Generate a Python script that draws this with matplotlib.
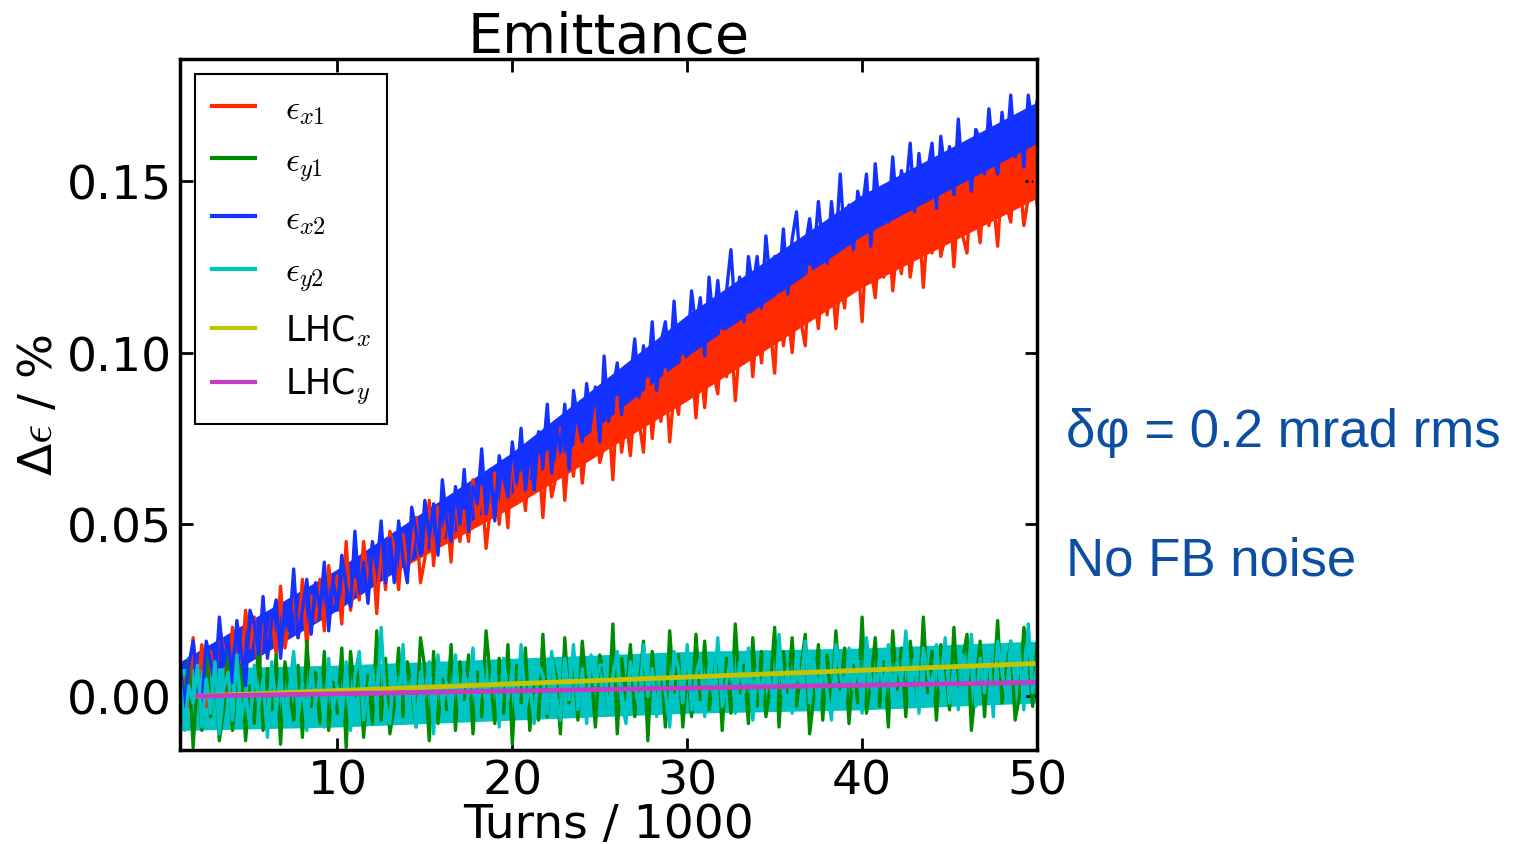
import numpy as np
import matplotlib.pyplot as plt

plt.rcParams['font.family'] = 'DejaVu Sans'
plt.rcParams['mathtext.fontset'] = 'cm'

# emittance change in units of 1e-3 %, one sample every 250 turns (1k .. 50k turns)
eps_x1 = [-2, 5, -3, 17, 2, 15, -3, 13, 2, 20, 14, 1, 20, 10, 8, 25, 14, 23, 5, 26,
          13, 23, 12, 32, 14, 22, 29, 17, 34, 14, 29, 22, 34, 19, 38, 27, 35, 21, 45, 25,
          34, 28, 45, 32, 44, 24, 45, 31, 48, 43, 31, 47, 36, 43, 52, 33, 40, 57, 38, 55,
          45, 53, 39, 60, 45, 54, 45, 63, 50, 61, 43, 55, 65, 50, 63, 49, 72, 56, 65, 54,
          70, 61, 70, 52, 71, 58, 64, 78, 57, 73, 64, 79, 62, 74, 70, 84, 68, 73, 82, 63,
          87, 71, 81, 70, 86, 80, 71, 94, 75, 89, 80, 95, 74, 89, 82, 99, 87, 99, 81, 97,
          84, 100, 94, 88, 108, 93, 106, 86, 102, 97, 111, 93, 109, 97, 113, 107, 94, 117, 102, 112,
          100, 116, 109, 102, 125, 118, 107, 124, 111, 124, 107, 121, 113, 130, 118, 127, 109, 132, 125, 116,
          132, 122, 138, 118, 131, 123, 139, 122, 131, 139, 119, 137, 129, 144, 128, 134, 144, 125, 143, 134,
          129, 151, 142, 132, 150, 137, 145, 131, 151, 143, 138, 157, 151, 137, 145, 156, 143]

eps_y1 = [7, -1, 11, -15, 6, -10, 15, -6, 9, -13, -4, 13, -10,
          5, 9, -13, 3, -8, 17, -10, 8, -4, 12, -14, 10, 1, -7, 9, -12, 16, -3, 7, -8, 13, -10, 4, -5, 14,
          -15, 13, 0, 9, -12, 6, -8, 19, -7, 11, -11, -3, 14, -6, 10, 1, -9, 17, 8, -13, 13, -8, 5, -4, 15,
          -10, 10, -1, 12, -11, 7, -6, 19, 5, -8, 11, -5, 15, -14, 9, -2, 14, -10, 3, -7, 18, -6, 12, 6, -11,
          17, -2, 11, -7, 16, 2, 8, -9, 12, 6, -5, 21, -11, 11, -1, 15, -6, 3, 16, -13, 13, -4, 10, -9, 19,
          1, 12, -9, 8, -6, 18, -1, 16, -4, 5, 14, -10, 11, -5, 21, 1, 9, -8, 17, -3, 13, -6, 3, 20, -9,
          13, 1, 17, -3, 8, 18, -11, 0, 15, -7, 12, -4, 19, 2, 14, -8, 9, -2, 23, -5, 4, 17, -3, 10, -9,
          19, 2, 14, -6, 16, 6, -3, 23, 1, 13, -7, 15, 9, -4, 20, -2, 11, 18, -10, 3, 16, -6, 13, 2, 22,
          -2, 8, 16, -7, 0, 20, 11, -3, 15]

eps_x2 = [10, -3, 9, 16, 2, -3, 16, 10, 3, 23, 9, 17, 4, 22, 13, 3, 25, 21, 12, 29,
          11, 22, 28, 11, 27, 19, 37, 17, 25, 34, 18, 33, 25, 39, 19, 34, 25, 41, 32, 26,
          48, 30, 39, 27, 45, 37, 51, 33, 46, 33, 51, 40, 33, 55, 48, 41, 57, 46, 56, 41,
          63, 51, 45, 61, 50, 66, 48, 61, 56, 72, 53, 66, 51, 70, 64, 58, 74, 62, 78, 60,
          72, 60, 77, 70, 85, 65, 80, 71, 85, 66, 89, 80, 74, 91, 80, 90, 74, 99, 80, 89,
          97, 82, 96, 92, 104, 87, 102, 93, 109, 89, 103, 109, 96, 115, 97, 106, 99, 118, 107, 116,
          99, 122, 108, 121, 107, 118, 130, 111, 122, 109, 128, 119, 128, 113, 134, 120, 128, 119, 136, 117,
          133, 141, 122, 131, 139, 128, 144, 131, 126, 144, 131, 152, 132, 143, 130, 147, 141, 152, 131, 155,
          141, 148, 138, 157, 141, 153, 147, 161, 141, 158, 146, 153, 161, 142, 163, 152, 160, 146, 168, 150,
          158, 147, 165, 162, 152, 171, 158, 152, 170, 158, 175, 157, 169, 154, 175, 166, 173]

eps_y2 = [6, -10, 3, -2, 9, -9, 5, -5, 10, -11, 2, 7, -7,
          12, -7, 1, -9, 9, -3, 5, -12, 10, -5, 7, -8, 2, 13, -6, 4, -10, 8, -2, 6, -9, 11, -4, 3, -7,
          10, -10, 6, 13, -7, 1, 8, -4, 20, -2, -8, 9, -5, 15, -6, 5, -9, 7, 0, 10, -11, 12, -3, 4, -7,
          12, -4, 7, 0, 14, -7, 9, -3, 3, 10, -9, 11, -1, 8, -6, 15, -4, 4, -8, 9, 6, -5, 13, 0, -7,
          11, -1, 15, -4, 8, -8, 12, 3, 9, 9, -5, 6, 13, -2, -8, 10, 4, -4, 15, 0, 8, -6, 11, 1, -9,
          13, 8, -2, 15, -4, 6, 11, -6, 9, 0, 17, -3, 4, 12, -5, 10, 1, 14, -7, 8, -2, 13, 3, -4, 18,
          0, 8, -5, 12, 3, 16, -2, 10, -4, 13, 1, -7, 15, 7, -1, 14, 2, 11, -5, 17, 4, -3, 12, 0, 15,
          -3, 10, 4, 19, -1, 11, -5, 14, 7, 0, 15, 2, 17, -2, 9, -4, 12, 4, 18, -3, 11, 1, 14, -6, 16,
          7, 0, 16, 4, 13, -4, 21, 1, 9]

# dense core of the noisy bands (same units)
core_turns = [1, 10, 20, 30, 40, 50]
x1_lo = [0, 27, 55, 86, 119, 145]
x1_hi = [9, 36, 67, 102, 137, 163]
x2_lo = [-2, 25, 59, 99, 134, 161]
x2_hi = [10, 37, 71, 111, 146, 173]
y2_lo = [-10, -9, -7, -5, -4, -2]
y2_hi = [8, 9, 11, 13, 14, 16]

# LHC reference
lhc_turns = [2, 50]
lhc_x = [0.0, 9.5]
lhc_y = [0.0, 4.0]

c_x1 = '#ff2a00'
c_y1 = '#008c00'
c_x2 = '#1432ff'
c_y2 = '#00c4c4'
c_lx = '#c4c400'
c_ly = '#c43cc4'


def pc(v):
    return np.array(v, dtype=float) / 1000.0


turns = np.linspace(1, 50, len(eps_x1))

fig = plt.figure(figsize=(15.18, 8.45), dpi=100)
ax = fig.add_axes([180 / 1518, 94 / 845, 857 / 1518, 691 / 845])

lw = 2.4
ax.plot(turns, pc(eps_x1), color=c_x1, lw=lw, label=r'$\epsilon_{x1}$')
ax.fill_between(core_turns, pc(x1_lo), pc(x1_hi), color=c_x1, lw=0)
ax.plot(turns, pc(eps_y1), color=c_y1, lw=lw, label=r'$\epsilon_{y1}$')
ax.plot(turns, pc(eps_x2), color=c_x2, lw=lw, label=r'$\epsilon_{x2}$')
ax.fill_between(core_turns, pc(x2_lo), pc(x2_hi), color=c_x2, lw=0)
ax.plot(turns, pc(eps_y2), color=c_y2, lw=lw, label=r'$\epsilon_{y2}$')
ax.fill_between(core_turns, pc(y2_lo), pc(y2_hi), color=c_y2, lw=0)
ax.plot(lhc_turns, pc(lhc_x), color=c_lx, lw=3.5, label=r'LHC$_x$')
ax.plot(lhc_turns, pc(lhc_y), color=c_ly, lw=3.5, label=r'LHC$_y$')

ax.set_xlim(1, 50)
ax.set_ylim(-0.0157, 0.1855)
ax.set_xticks([10, 20, 30, 40, 50])
ax.set_yticks([0.0, 0.05, 0.10, 0.15])
ax.set_yticklabels(['0.00', '0.05', '0.10', '0.15'])
ax.tick_params(direction='in', top=True, right=True, length=9, width=2, labelsize=34)
ax.tick_params(axis='x', pad=6)
ax.tick_params(axis='y', pad=6)
for s in ax.spines.values():
    s.set_linewidth(2.5)

ax.set_title('Emittance', fontsize=40, pad=5)
ax.set_xlabel('Turns / 1000', fontsize=34, labelpad=-1)
ax.set_ylabel(r'Δ$\epsilon$ / %', fontsize=34, labelpad=3)

leg = ax.legend(loc='upper left', bbox_to_anchor=(15 / 857, 1 - 15 / 691), fontsize=25,
                fancybox=False, edgecolor='black', framealpha=1, handlelength=1.25,
                handletextpad=0.85, labelspacing=0.52, borderpad=0.48, borderaxespad=0)
leg.get_frame().set_linewidth(1.5)
for h in leg.get_lines():
    h.set_linewidth(3)

fig.text(1066 / 1518, 1 - 447 / 845, 'δφ = 0.2 mrad rms', fontsize=38, color='#0b4ea2',
         family=['Liberation Sans', 'DejaVu Sans'], va='baseline')
fig.text(1066 / 1518, 1 - 576 / 845, 'No FB noise', fontsize=38, color='#0b4ea2',
         family=['Liberation Sans', 'DejaVu Sans'], va='baseline')

fig.savefig('out.png', dpi=100)
